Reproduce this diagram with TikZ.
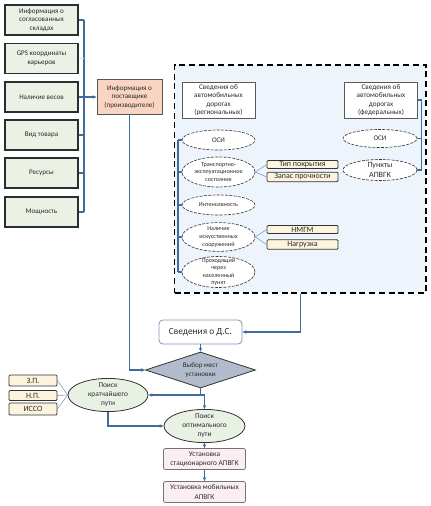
\documentclass[tikz,border=0pt]{standalone}
\usepackage{fontspec}
\setmainfont{Carlito}
\usetikzlibrary{shapes.geometric,arrows.meta}
\definecolor{conn}{HTML}{3F6C9B}
\definecolor{thin}{HTML}{7E9DBF}
\definecolor{txt}{HTML}{2B2B2B}
\definecolor{lboxf}{HTML}{EBF1E4}
\definecolor{lboxd}{HTML}{26302E}
\definecolor{supf}{HTML}{F9D4C1}
\definecolor{dboxf}{HTML}{EEF4FB}
\definecolor{yboxf}{HTML}{FDF4DE}
\definecolor{diaf}{HTML}{B0BCCB}
\definecolor{gellf}{HTML}{E8F1E3}
\definecolor{pboxf}{HTML}{FBEEF3}
\begin{document}
\begin{tikzpicture}[x=0.75pt,y=-0.75pt,
  bw/.style={minimum width=#1*0.75pt},
  bh/.style={minimum height=#1*0.75pt},
  every node/.style={inner sep=0pt, align=center, text=txt, font=\fontsize{5.3}{6.4}\selectfont},
  lbox/.style={draw=lboxd, fill=lboxf, line width=0.9pt, bw=73, bh=30},
  supbox/.style={draw=lboxd!80, fill=supf, line width=0.7pt, bw=65, bh=35},
  dbox/.style={draw=black, fill=dboxf, line width=0.9pt, dash pattern=on 4.5pt off 2.8pt},
  ibox/.style={draw=black!65, fill=white, line width=0.6pt, bw=73, bh=36, font=\fontsize{5.4}{6.4}\selectfont},
  dell/.style={ellipse, draw=black!80, fill=white, line width=0.45pt, dash pattern=on 2.2pt off 1pt, bw=73, font=\fontsize{4.6}{5.8}\selectfont},
  ybox/.style={draw=black!80, fill=yboxf, line width=0.6pt, rounded corners=0.8pt, bw=71, font=\fontsize{6}{6}\selectfont},
  svedbox/.style={draw=conn!70, fill=white, line width=0.6pt, rounded corners=3pt, bw=83, bh=24, font=\fontsize{7}{8}\selectfont},
  diabox/.style={diamond, aspect=2.9, draw=black!80, fill=diaf, line width=0.6pt, bw=110, bh=36},
  gell/.style={ellipse, draw=black!80, fill=gellf, line width=0.6pt, font=\fontsize{5.5}{6.6}\selectfont},
  pbox/.style={draw=black!55, fill=pboxf, line width=0.6pt, rounded corners=1.5pt, bw=82, bh=21, font=\fontsize{5.5}{6.8}\selectfont},
  cline/.style={draw=conn, line width=0.9pt},
  tline/.style={draw=thin, line width=0.45pt},
  arr/.style={-{Stealth[length=3pt,width=2.6pt]}}
]
\useasboundingbox (0,0) rectangle (431,506);

% left column
\node[lbox] (b1) at (41.5,20) {Информация о\\согласованных\\складах};
\node[lbox] (b2) at (41.5,58.5) {GPS координаты\\карьеров};
\node[lbox] (b3) at (41.5,97) {Наличие весов};
\node[lbox] (b4) at (41.5,135) {Вид товара};
\node[lbox] (b5) at (41.5,173) {Ресурсы};
\node[lbox] (b6) at (41.5,212) {Мощность};
\coordinate (lt) at (84,20);
\coordinate (lb) at (84,212);
\draw[cline] (lt) -- (lb);
\foreach \n in {b1,b3,b4,b5,b6} \draw[cline] (\n.east) -- (\n.east -| lt);
\draw[conn!20, line width=0.6pt] (b2.east) -- (b2.east -| lt);

\node[supbox] (sup) at (129.5,97) {Информация о\\поставщике\\(производителе)};
\draw[cline,arr] (b3.east -| lt) -- (sup.west);

% dashed region
\node[dbox, bw=251.5, bh=228] (big) at (300.25,179) {};
\node[ibox] (reg) at (218.5,100) {Сведения об\\автомобильных\\дорогах\\(региональных)};
\node[ibox] (fed) at (381,100) {Сведения об\\автомобильных\\дорогах\\(федеральных)};

\node[dell, bh=20, font=\fontsize{5.3}{6}\selectfont] (e1) at (218.5,140) {ОСИ};
\node[dell, bh=30] (e2) at (218.5,172) {Транспортно-\\эксплуатационное\\состояние};
\node[dell, bh=20] (e3) at (218.5,205) {Интенсивность};
\node[dell, bh=28] (e4) at (218.5,237) {Наличие\\искусственных\\сооружений};
\node[dell, bh=31, label={[font=\fontsize{4.6}{5.6}\selectfont, align=center]center:Проходящий\\через\\населенный\\пункт}] (e5) at (218.5,272) {};
\coordinate (ct) at (178,140);
\coordinate (cb) at (178,272);
\draw[cline] (ct) -- (cb);
\foreach \n in {e1,e2,e3,e4,e5} \draw[cline] (\n.west) -- (\n.west -| ct);

\node[ybox, bh=8] (tp) at (302.5,164.5) {Тип покрытия};
\node[ybox, bh=9.5] (zp2) at (302.5,177) {Запас прочности};
\node[ybox, bh=8] (nm) at (302.5,229.5) {НМГМ};
\node[ybox, bh=9.5] (ng) at (302.5,244.5) {Нагрузка};
\draw[tline] (e2.east) -- (tp.west);
\draw[tline] (e2.east) -- (zp2.west);
\draw[tline] (e4.east) -- (nm.west);
\draw[tline] (e4.east) -- (ng.west);

\node[dell, bw=74, bh=18, font=\fontsize{5.3}{6}\selectfont] (o2) at (380,138.5) {ОСИ};
\node[dell, bw=74, bh=21, font=\fontsize{6}{7}\selectfont] (pk) at (380,170) {Пункты\\АПВГК};
\coordinate (rt) at (421.5,100);
\coordinate (rb) at (421.5,170);
\draw[cline] (rt) -- (rb);
\foreach \n in {fed,o2,pk} \draw[cline] (\n.east) -- (\n.east -| rt);

% lower part
\node[svedbox] (sved) at (200.5,332) {Сведения о Д.С.};
\node[diabox] (dia) at (200.5,370) {Выбор мест\\установки};
\draw[cline,arr] (big.south) |- (sved.east);
\draw[cline,arr] (sved.south) -- (dia.north);
\draw[cline,arr] (sup.south) |- (dia.west);

\coordinate (br) at (200.5,395);
\node[gell, bw=80, bh=30] (kr) at (108,395) {Поиск\\кратчайшего\\пути};
\node[gell, bw=81, bh=32] (opt) at (204.5,426) {Поиск\\оптимального\\пути};
\draw[cline] (dia.south) -- (br);
\draw[cline,arr] (br) -- (kr.east);
\draw[cline,arr] (br) -| (opt.north);
\draw[cline,arr] (kr.south) |- (opt.west);

\node[ybox, bw=48, bh=11] (zpp) at (33,380.5) {З.П.};
\node[ybox, bw=48, bh=10] (npp) at (33,395.5) {Н.П.};
\node[ybox, bw=48, bh=12] (isso) at (33,409) {ИССО};
\foreach \n in {zpp,npp,isso} \draw[tline] (\n.east) -- (kr.west);

\node[pbox] (st) at (204.5,459) {Установка\\стационарного АПВГК};
\node[pbox] (mob) at (204.5,492) {Установка мобильных\\АПВГК};
\draw[cline,arr] (opt.south) -- (st.north);
\draw[cline,arr] (st.south) -- (mob.north);
\end{tikzpicture}
\end{document}
